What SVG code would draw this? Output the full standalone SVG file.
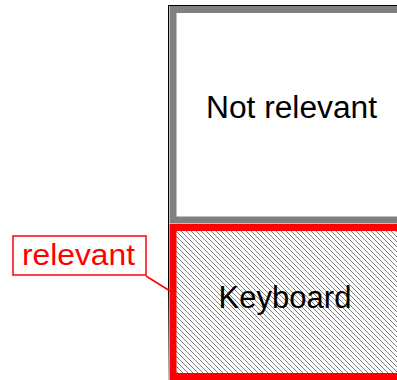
<svg xmlns="http://www.w3.org/2000/svg" width="397" height="380" viewBox="0 0 397 380">
  <style>
    .lbl { font-family: "Liberation Sans", Arial, sans-serif; font-size: 31px; text-anchor: middle; }
  </style>
  <defs>
    <pattern id="hatch" patternUnits="userSpaceOnUse" width="5" height="5">
      <rect width="5" height="5" fill="#fff"/>
      <path d="M-1,-1 L6,6 M-1,4 L1,6 M4,-1 L6,1" stroke="#808080" stroke-width="1"/>
    </pattern>
    <linearGradient id="frameGrad" x1="0" y1="0" x2="0" y2="1">
      <stop offset="0" stop-color="#000"/>
      <stop offset="0.75" stop-color="#000"/>
      <stop offset="1" stop-color="#c8c8c8"/>
    </linearGradient>
  </defs>
  <rect width="397" height="380" fill="#fff"/>
  <g id="frame">
    <rect x="168" y="5" width="1" height="375" fill="url(#frameGrad)"/>
    <rect x="168" y="5" width="229" height="1" fill="#000"/>
  </g>
  <g id="not-relevant">
    <rect x="173" y="9.5" width="240" height="210.5" fill="#fff" stroke="#808080" stroke-width="7"/>
    <text class="lbl" x="291.5" y="118" textLength="171" lengthAdjust="spacingAndGlyphs">Not relevant</text>
  </g>
  <g id="keyboard">
    <rect x="173" y="227.5" width="240" height="149" fill="url(#hatch)" stroke="#ff0000" stroke-width="7"/>
    <text class="lbl" x="285" y="308" textLength="133" lengthAdjust="spacingAndGlyphs">Keyboard</text>
  </g>
  <g id="connectors">
    <line x1="146" y1="276" x2="170" y2="291" stroke="#ff0000" stroke-width="1.5"/>
  </g>
  <g id="relevant-label">
    <rect x="13" y="236" width="133" height="39" fill="#fff" stroke="#ff0000" stroke-width="1.5"/>
    <text class="lbl" x="78.5" y="265" fill="#ff0000" style="font-size:29px" textLength="113" lengthAdjust="spacingAndGlyphs">relevant</text>
  </g>
</svg>
